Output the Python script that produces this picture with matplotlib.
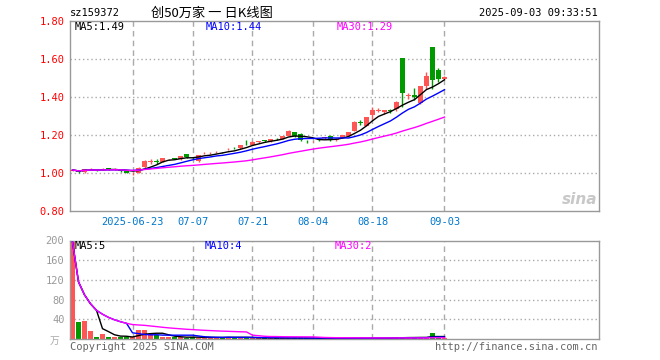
# 创50万家 日K线图 (sina 风格)
import numpy as np
import pandas as pd
import matplotlib
matplotlib.use("Agg")
import matplotlib.pyplot as plt

# 数据
dates = pd.bdate_range("2025-06-09", "2025-09-03").strftime("%Y-%m-%d").tolist()
opens = [1.012, 1.009, 1.004, 1.019, 1.018, 1.018, 1.026, 1.018, 1.016, 1.012,
         0.998, 1.002, 1.030, 1.058, 1.064, 1.060, 1.072, 1.078, 1.072, 1.101,
         1.081, 1.062, 1.103, 1.104, 1.110, 1.110, 1.124, 1.132, 1.130, 1.160,
         1.148, 1.163, 1.172, 1.166, 1.185, 1.180, 1.196, 1.216, 1.205, 1.170,
         1.168, 1.176, 1.182, 1.196, 1.172, 1.184, 1.196, 1.222, 1.267, 1.250,
         1.304, 1.328, 1.320, 1.330, 1.336, 1.605, 1.405, 1.412, 1.369, 1.459,
         1.663, 1.540, 1.497]
closes = [1.016, 1.006, 1.020, 1.021, 1.014, 1.020, 1.018, 1.020, 1.012, 1.001,
          1.001, 1.028, 1.062, 1.062, 1.060, 1.078, 1.074, 1.075, 1.090, 1.083,
          1.079, 1.095, 1.106, 1.106, 1.113, 1.108, 1.127, 1.129, 1.148, 1.157,
          1.164, 1.166, 1.169, 1.178, 1.183, 1.195, 1.222, 1.194, 1.176, 1.167,
          1.170, 1.174, 1.187, 1.180, 1.177, 1.200, 1.216, 1.268, 1.264, 1.294,
          1.332, 1.331, 1.332, 1.327, 1.375, 1.421, 1.408, 1.400, 1.459, 1.508,
          1.487, 1.497, 1.503]
highs = [1.020, 1.013, 1.022, 1.025, 1.020, 1.024, 1.027, 1.024, 1.020, 1.013,
         1.005, 1.030, 1.066, 1.072, 1.075, 1.080, 1.075, 1.080, 1.092, 1.102,
         1.082, 1.097, 1.110, 1.108, 1.118, 1.112, 1.130, 1.138, 1.150, 1.172,
         1.166, 1.167, 1.176, 1.180, 1.186, 1.197, 1.224, 1.218, 1.212, 1.176,
         1.171, 1.180, 1.188, 1.198, 1.180, 1.202, 1.218, 1.272, 1.280, 1.296,
         1.350, 1.342, 1.334, 1.336, 1.378, 1.606, 1.420, 1.447, 1.460, 1.529,
         1.664, 1.553, 1.510]
lows = [1.010, 1.000, 1.002, 1.015, 1.010, 1.014, 1.016, 1.016, 1.006, 0.998,
        0.990, 0.998, 1.028, 1.050, 1.050, 1.058, 1.066, 1.072, 1.070, 1.080,
        1.076, 1.058, 1.100, 1.100, 1.106, 1.106, 1.120, 1.124, 1.128, 1.145,
        1.146, 1.158, 1.165, 1.164, 1.176, 1.178, 1.194, 1.190, 1.168, 1.160,
        1.162, 1.166, 1.180, 1.170, 1.170, 1.182, 1.194, 1.220, 1.252, 1.248,
        1.284, 1.322, 1.310, 1.318, 1.325, 1.350, 1.390, 1.386, 1.365, 1.440,
        1.440, 1.479, 1.495]
# 成交量 (万)
volumes = [197, 35, 37, 17, 5, 11, 5, 5, 3.5, 3.5,
           3.5, 19, 19, 9.5, 7.5, 3.5, 3.5, 5, 3.5, 3,
           4, 3, 3, 3, 3, 3, 5, 3, 3, 3,
           2, 2, 2, 2, 2, 2, 2, 2.5, 2, 1.5,
           1.5, 2, 1.5, 1.5, 2, 1.5, 2.5, 2, 2, 1.5,
           2.5, 1.5, 1.5, 3, 3, 4, 3, 2, 4, 3,
           13, 3, 2]
tick_dates = ["2025-06-23", "2025-07-07", "2025-07-21", "2025-08-04", "2025-08-18", "2025-09-03"]
tick_labels = ["2025-06-23", "07-07", "07-21", "08-04", "08-18", "09-03"]
price_ticks = [0.80, 1.00, 1.20, 1.40, 1.60, 1.80]
vol_ticks = [0, 40, 80, 120, 160, 200]

df = pd.DataFrame({"open": opens, "close": closes, "high": highs, "low": lows, "vol": volumes}, index=dates)
x = np.arange(len(df))
up = df["close"] >= df["open"]
UP, DOWN = "#ff5555", "#009900"
colors = np.where(up, UP, DOWN)
tick_pos = [dates.index(d) for d in tick_dates]

W, H = 660, 360
fig = plt.figure(figsize=(W / 100, H / 100), dpi=100)
L, R = 70, 599
ax = fig.add_axes([L / W, 1 - 211 / H, (R - L) / W, 190 / H])
axv = fig.add_axes([L / W, 1 - 339 / H, (R - L) / W, 98.5 / H])

xl = (-2.5 / 6, (R - 72.5) / 6)
mono = "DejaVu Sans Mono"
grid_c = "#aaaaaa"

for a in (ax, axv):
    a.set_xlim(*xl)
    for s in a.spines.values():
        s.set_color("#999999")
        s.set_linewidth(1)
    a.set_xticks([])
    a.tick_params(axis="y", length=0, pad=4)
    for p in tick_pos:
        a.axvline(p, color=grid_c, lw=1, ls=(0, (4, 3)), zorder=0)

# K线
ax.vlines(x, df["low"], df["high"], colors=colors, lw=1, zorder=2)
body = np.maximum((df["close"] - df["open"]).abs(), 0.002)
ax.bar(x, body, bottom=np.minimum(df["open"], df["close"]), width=0.8,
       color=colors, linewidth=0, zorder=3)
for n, c in [(5, "black"), (10, "#0000ff"), (30, "#ff00ff")]:
    ax.plot(x, df["close"].rolling(n, min_periods=1).mean(), color=c, lw=1, zorder=4)
ax.set_ylim(0.80, 1.80)
ax.set_yticks(price_ticks)
ax.set_yticklabels([f"{v:.2f}" for v in price_ticks], color="red", fontsize=7.5, fontfamily=mono)
for v in price_ticks[1:-1]:
    ax.axhline(v, color=grid_c, lw=1, ls=(0, (1, 2)), zorder=0)

# 成交量
axv.bar(x, df["vol"], width=0.8, color=colors, linewidth=0, zorder=2)
for n, c in [(5, "black"), (10, "#0000ff"), (30, "#ff00ff")]:
    axv.plot(x, df["vol"].rolling(n, min_periods=1).mean(), color=c, lw=1, zorder=4)
axv.set_ylim(0, 200)
axv.set_yticks(vol_ticks[1:])
axv.set_yticklabels([str(v) for v in vol_ticks[1:]], color="#999999", fontsize=7.5, fontfamily=mono)
for v in vol_ticks[1:-1]:
    axv.axhline(v, color=grid_c, lw=1, ls=(0, (1, 2)), zorder=0)


def px(xp, yp, s, **kw):
    fig.text(xp / W, 1 - yp / H, s, va="center", **kw)


# 日期
for p, lab in zip(tick_pos, tick_labels):
    px(72.5 + 6 * p, 222, lab, ha="center", color="#0077cc", fontsize=7.5, fontfamily=mono)

# 标题
px(70, 13, "sz159372", color="black", fontsize=7.5, fontfamily=mono)
px(151, 13, "创50万家 一 日K线图", color="black", fontsize=9.5, fontfamily=["Noto Sans CJK SC", "DejaVu Sans"])
px(598, 13, "2025-09-03 09:33:51", ha="right", color="black", fontsize=7.5, fontfamily=mono)

# MA 数值
px(75, 27, "MA5:1.49", color="black", fontsize=7.5, fontfamily=mono)
px(206, 27, "MA10:1.44", color="#0000ff", fontsize=7.5, fontfamily=mono)
px(337, 27, "MA30:1.29", color="#ff00ff", fontsize=7.5, fontfamily=mono)
px(75, 246, "MA5:5", color="black", fontsize=7.5, fontfamily=mono)
px(205, 246, "MA10:4", color="#0000ff", fontsize=7.5, fontfamily=mono)
px(335, 246, "MA30:2", color="#ff00ff", fontsize=7.5, fontfamily=mono)

# 底部
px(50, 341, "万", color="#aaaaaa", fontsize=7, fontfamily=["Noto Sans CJK SC", "DejaVu Sans"])
px(70, 347, "Copyright 2025 SINA.COM", color="#666666", fontsize=7.5, fontfamily=mono)
px(598, 347, "http://finance.sina.com.cn", ha="right", color="#666666", fontsize=7.5, fontfamily=mono)

# sina 水印
px(597, 200, "sina", ha="right", color="#c8c8c8", fontsize=11, fontweight="bold", style="italic")

fig.savefig("out.png", dpi=100)
